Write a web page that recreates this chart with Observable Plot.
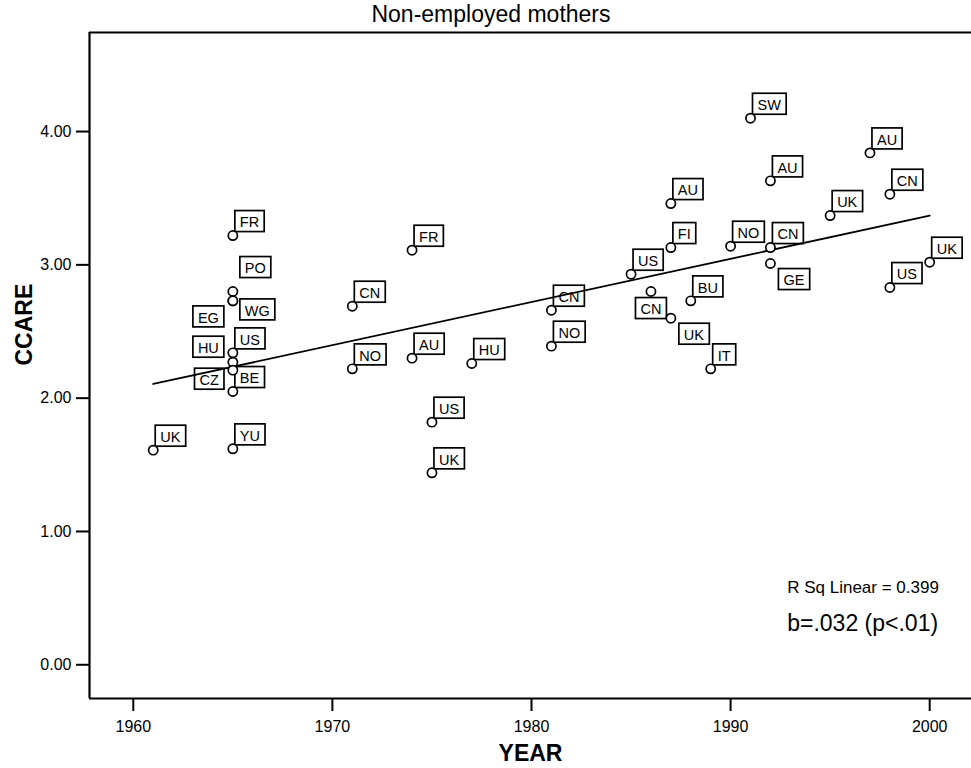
<!DOCTYPE html>
<html><head><meta charset="utf-8">
<script src="https://cdn.jsdelivr.net/npm/d3@7"></script>
<script src="https://cdn.jsdelivr.net/npm/@observablehq/plot@0.6"></script>
<style>
body{margin:0;background:#fff;}
svg text{font-family:"Liberation Sans", Arial, sans-serif;}
g[aria-label^="x-axis"] line, g[aria-label^="x-axis"] path,
g[aria-label^="y-axis"] line, g[aria-label^="y-axis"] path{stroke-width:2px;stroke:#000;}
</style></head><body><div id="chart"></div>
<script>
const countries = ["UK","FR","PO","WG","EG","HU","US","CZ","BE","YU","CN","NO","FR","AU","US","UK","HU","CN","NO","US","CN","AU","FI","UK","BU","IT","NO","SW","AU","CN","GE","UK","AU","CN","US","UK"];
const years = [1961,1965,1965,1965,1965,1965,1965,1965,1965,1965,1971,1971,1974,1974,1975,1975,1977,1981,1981,1985,1986,1987,1987,1987,1988,1989,1990,1991,1992,1992,1992,1995,1997,1998,1998,2000];
const ccare = [1.61,3.22,2.80,2.73,2.73,2.27,2.34,2.21,2.05,1.62,2.69,2.22,3.11,2.30,1.82,1.44,2.26,2.66,2.39,2.93,2.80,3.46,3.13,2.60,2.73,2.22,3.14,4.10,3.63,3.13,3.01,3.37,3.84,3.53,2.83,3.02];
const labelPlace = ["NE","NE","N","E","SW","NW","NE","W","NE","NE","NE","NE","NE","NE","NE","NE","NE","NE","NE","NE","S","NE","NE","SE","NE","NE","NE","NE","NE","NE","SE","NE","NE","NE","NE","NE"];
const xTicks = [1960,1970,1980,1990,2000];
const yTicks = [0,1,2,3,4];
const titleText = "Non-employed mothers";
const xLabel = "YEAR";
const yLabel = "CCARE";
const rsqNote = "R Sq Linear = 0.399";
const slopeNote = "b=.032 (p<.01)";

const data = countries.map((c, i) => ({country: c, year: years[i], ccare: ccare[i], place: labelPlace[i]}));
const xDomain = [1957.8, 2002.1];
const yDomain = [-0.253, 4.743];
const LABEL_INK = "#000001";

const placements = {
  NE: {textAnchor: "start", dx: 7, dy: -12.8},
  NW: {textAnchor: "end", dx: -14, dy: -13.8},
  SW: {textAnchor: "end", dx: -14, dy: 17.2},
  SE: {textAnchor: "start", dx: 13, dy: 17.2},
  S:  {textAnchor: "middle", dx: 0, dy: 18.2},
  W:  {textAnchor: "end", dx: -14, dy: 10.2},
  E:  {textAnchor: "start", dx: 12, dy: 10.2},
  N:  {textAnchor: "start", dx: 12, dy: -22.8}
};
const labelMarks = Object.entries(placements).map(([k, p]) =>
  Plot.text(data.filter(d => d.place === k), {
    x: "year", y: "ccare", text: "country", textAnchor: p.textAnchor,
    dx: p.dx, dy: p.dy, fontSize: 14.5, lineAnchor: "middle", fill: LABEL_INK
  })
);

const chart = Plot.plot({
  width: 971, height: 768,
  marginLeft: 89, marginRight: 0, marginTop: 32, marginBottom: 70,
  style: {fontSize: "16px", fontFamily: "Liberation Sans, Arial, sans-serif", background: "white", color: "black", overflow: "visible"},
  x: {domain: xDomain, ticks: xTicks, tickFormat: "d", tickSize: 13, tickPadding: 9, label: null},
  y: {domain: yDomain, ticks: yTicks, tickFormat: ".2f", tickSize: 13, tickPadding: 5, label: null},
  marks: [
    Plot.ruleX([xDomain[0]], {strokeWidth: 2.2, stroke: "black"}),
    Plot.ruleY(yDomain, {strokeWidth: 2.2, stroke: "black"}),
    ...labelMarks,
    Plot.linearRegressionY(data, {x: "year", y: "ccare", ci: 0, stroke: "black", strokeWidth: 1.8}),
    Plot.dot(data, {x: "year", y: "ccare", r: 4.6, fill: "white", stroke: "black", strokeWidth: 1.7}),
    Plot.text([titleText], {frameAnchor: "top", text: d => d, dx: -39.5, dy: -17.4, fontSize: 23, lineAnchor: "middle", fill: "black"}),
    Plot.text([xLabel], {frameAnchor: "bottom", text: d => d, dy: 55, fontSize: 23, fontWeight: "bold", lineAnchor: "middle", fill: "black"}),
    Plot.text([yLabel], {frameAnchor: "left", text: d => d, dx: -65, rotate: -90, fontSize: 23, fontWeight: "bold", lineAnchor: "middle", fill: "black"}),
    Plot.text([rsqNote], {frameAnchor: "bottom-right", text: d => d, textAnchor: "start", dx: -184.3, dy: -111, fontSize: 17, lineAnchor: "middle", fill: "black"}),
    Plot.text([slopeNote], {frameAnchor: "bottom-right", text: d => d, textAnchor: "start", dx: -184.3, dy: -74.7, fontSize: 23, lineAnchor: "middle", fill: "black"})
  ]
});
document.getElementById("chart").appendChild(chart);

const labelTexts = Array.from(chart.querySelectorAll("text")).filter(t => {
  let n = t;
  while (n && n !== chart) {
    const f = n.getAttribute && n.getAttribute("fill");
    if (f) return f.toLowerCase() === LABEL_INK;
    n = n.parentNode;
  }
  return false;
});
labelTexts.forEach(t => {
  const bb = t.getBBox();
  const r = document.createElementNS("http://www.w3.org/2000/svg", "rect");
  const cy = bb.y + bb.height / 2 - 1.3;
  r.setAttribute("x", bb.x - 5);
  r.setAttribute("y", cy - 10.5);
  r.setAttribute("width", bb.width + 10);
  r.setAttribute("height", 21);
  r.setAttribute("fill", "white");
  r.setAttribute("stroke", "black");
  r.setAttribute("stroke-width", 1.7);
  const tr = t.getAttribute("transform");
  if (tr) r.setAttribute("transform", tr);
  t.parentNode.insertBefore(r, t);
});
</script></body></html>
